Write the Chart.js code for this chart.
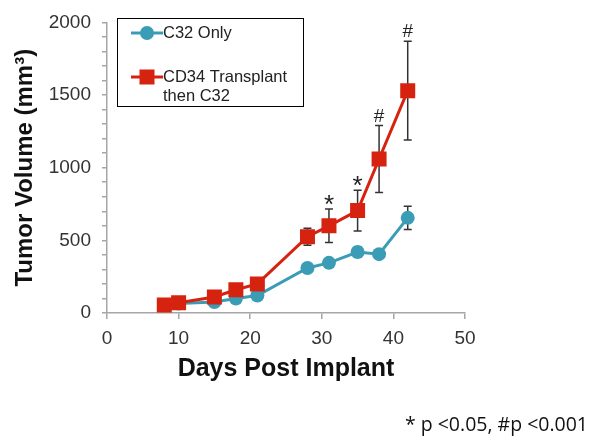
<!DOCTYPE html>
<html>
<head>
<meta charset="utf-8">
<script src="https://cdn.jsdelivr.net/npm/chart.js@4.4.1/dist/chart.umd.min.js"></script>
<style>
html, body { margin: 0; padding: 0; background: #fff; }
</style>
</head>
<body>
<canvas id="chart" width="600" height="447"></canvas>
<script>
// data
const days = [8, 10, 15, 18, 21, 28, 31, 35, 38, 42];
const c32Only = [55, 65, 75, 100, 120, 310, 345, 420, 405, 655];
const c32Err = [10, 10, 10, 15, 15, 20, 20, 35, 20, 80];
const cd34Then = [55, 70, 110, 160, 200, 525, 600, 705, 1060, 1530];
const cd34Err = [10, 10, 15, 20, 20, 58, 115, 140, 230, 340];
const cd34Sig = ['', '', '', '', '', '', '*', '*', '#', '#'];
const legendC32 = ['C32 Only'];
const legendCd34 = ['CD34 Transplant', 'then C32'];
const footnote = '* p <0.05, #p <0.001';

const teal = '#3a9db5';
const red = '#d6230f';
const axisGray = '#a6a6a6';

function pts(ys) {
    return days.map((d, i) => ({x: d, y: ys[i]}));
}

const errorBars = {
    id: 'errorBars',
    beforeDatasetsDraw(chart) {
        const ctx = chart.ctx;
        const xs = chart.scales.x, ys = chart.scales.y;
        const sets = [[c32Only, c32Err], [cd34Then, cd34Err]];
        ctx.save();
        ctx.strokeStyle = '#333';
        ctx.lineWidth = 1.5;
        sets.forEach(([vals, errs]) => {
            vals.forEach((v, i) => {
                const px = xs.getPixelForValue(days[i]);
                const top = ys.getPixelForValue(v + errs[i]);
                const bot = ys.getPixelForValue(v - errs[i]);
                ctx.beginPath();
                ctx.moveTo(px, top); ctx.lineTo(px, bot);
                ctx.moveTo(px - 4, top); ctx.lineTo(px + 4, top);
                ctx.moveTo(px - 4, bot); ctx.lineTo(px + 4, bot);
                ctx.stroke();
            });
        });
        ctx.restore();
    },
    afterDatasetsDraw(chart) {
        const ctx = chart.ctx;
        const xs = chart.scales.x, ys = chart.scales.y;
        ctx.save();
        // significance marks
        ctx.fillStyle = '#222';
        ctx.textAlign = 'center';
        ctx.textBaseline = 'alphabetic';
        cd34Sig.forEach((s, i) => {
            if (!s) return;
            ctx.font = s === '*' ? '26px Arial' : '19px Arial';
            const m = ctx.measureText(s);
            const px = xs.getPixelForValue(days[i]);
            const cap = ys.getPixelForValue(cd34Then[i] + cd34Err[i]);
            ctx.fillText(s, px, cap - 4 - m.actualBoundingBoxDescent);
        });

        // legend box
        ctx.strokeStyle = '#000';
        ctx.lineWidth = 1;
        ctx.strokeRect(117.5, 18.5, 186, 88);
        ctx.font = '16.5px Arial';
        ctx.textAlign = 'left';
        ctx.textBaseline = 'middle';

        ctx.strokeStyle = teal; ctx.lineWidth = 3;
        ctx.beginPath(); ctx.moveTo(131, 33); ctx.lineTo(163, 33); ctx.stroke();
        ctx.fillStyle = teal;
        ctx.beginPath(); ctx.arc(147, 33, 7, 0, Math.PI * 2); ctx.fill();
        ctx.fillStyle = '#222';
        legendC32.forEach((t, k) => ctx.fillText(t, 163, 33 + k * 19));

        ctx.strokeStyle = red;
        ctx.beginPath(); ctx.moveTo(131, 77); ctx.lineTo(163, 77); ctx.stroke();
        ctx.fillStyle = red;
        ctx.fillRect(139.5, 69.5, 15, 15);
        ctx.fillStyle = '#222';
        legendCd34.forEach((t, k) => ctx.fillText(t, 163, 77 + k * 19));

        // footnote
        ctx.font = '19.5px "Open Sans"';
        ctx.textAlign = 'right';
        ctx.fillStyle = '#111';
        ctx.fillText(footnote, 588, 425);
        ctx.restore();
    }
};

new Chart(document.getElementById('chart'), {
    type: 'scatter',
    data: {
        datasets: [
            {
                label: legendC32.join(' '),
                data: pts(c32Only),
                showLine: true,
                borderColor: teal,
                backgroundColor: teal,
                borderWidth: 3,
                pointStyle: 'circle',
                pointRadius: 7,
                pointBorderWidth: 0,
                order: 1
            },
            {
                label: legendCd34.join(' '),
                data: pts(cd34Then),
                showLine: true,
                borderColor: red,
                backgroundColor: red,
                borderWidth: 3,
                pointStyle: 'rect',
                pointRadius: 10.6,
                pointBorderWidth: 0,
                order: 0
            }
        ]
    },
    options: {
        responsive: false,
        animation: false,
        layout: {padding: {left: 0, top: 16, right: 135, bottom: 0}},
        plugins: {legend: {display: false}, tooltip: {enabled: false}},
        scales: {
            x: {
                type: 'linear',
                min: 0, max: 50,
                ticks: {stepSize: 10, color: '#333', font: {family: 'Arial', size: 19}, padding: 8},
                grid: {drawOnChartArea: false, tickLength: 6, color: axisGray, lineWidth: 1.5},
                border: {color: axisGray, width: 1.5},
                title: {display: true, text: 'Days Post Implant', color: '#111',
                    font: {family: 'Arial', size: 25, weight: 'bold'}, padding: {top: 0, bottom: 63}},
                afterFit(s) { s.height = 134; }
            },
            y: {
                min: 0, max: 2000,
                ticks: {stepSize: 100, autoSkip: false, color: '#333', font: {family: 'Arial', size: 19}, padding: 11,
                    callback: v => v % 500 === 0 ? v : ''},
                grid: {drawOnChartArea: false, tickLength: 5, color: axisGray, lineWidth: 1.5},
                border: {color: axisGray, width: 1.5},
                title: {display: true, text: 'Tumor Volume (mm³)', color: '#111',
                    font: {family: 'Arial', size: 24, weight: 'bold'}, padding: {top: 11, bottom: 0}},
                afterFit(s) { s.width = 107; }
            }
        }
    },
    plugins: [errorBars]
});
</script>
</body>
</html>
